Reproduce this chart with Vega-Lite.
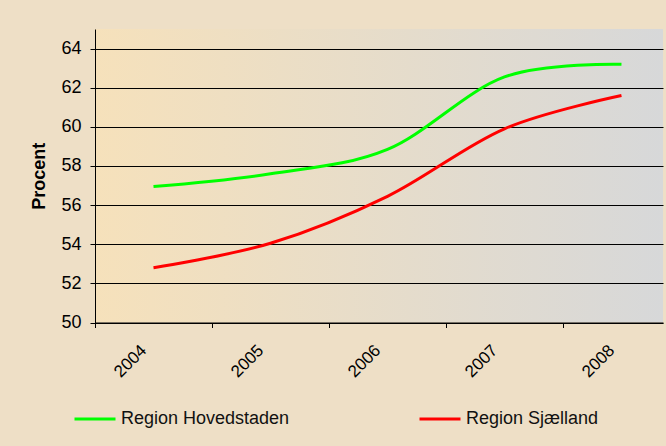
{
  "$schema": "https://vega.github.io/schema/vega-lite/v6.json",
  "width": 568,
  "height": 293.5,
  "autosize": {"type": "none"},
  "padding": {"left": 95, "top": 29, "right": 3, "bottom": 123.5},
  "background": "#EEDFC6",
  "config": {
    "font": "Liberation Sans",
    "view": {
      "stroke": null,
      "fill": {
        "gradient": "linear",
        "x1": 0, "y1": 0, "x2": 1, "y2": 0,
        "stops": [
          {"offset": 0, "color": "#F6E1BB"},
          {"offset": 1, "color": "#D7D8D9"}
        ]
      }
    }
  },
  "data": {
    "values": [
      {"year": 2004, "region": "Region Hovedstaden", "value": 56.95},
      {"year": 2005, "region": "Region Hovedstaden", "value": 57.6},
      {"year": 2006, "region": "Region Hovedstaden", "value": 58.85},
      {"year": 2007, "region": "Region Hovedstaden", "value": 62.55},
      {"year": 2008, "region": "Region Hovedstaden", "value": 63.2},
      {"year": 2004, "region": "Region Sjælland", "value": 52.8},
      {"year": 2005, "region": "Region Sjælland", "value": 54.05},
      {"year": 2006, "region": "Region Sjælland", "value": 56.45},
      {"year": 2007, "region": "Region Sjælland", "value": 59.9},
      {"year": 2008, "region": "Region Sjælland", "value": 61.6}
    ]
  },
  "mark": {"type": "line", "interpolate": "cardinal", "strokeWidth": 3, "clip": false},
  "encoding": {
    "x": {
      "field": "year",
      "type": "quantitative",
      "scale": {"domain": [2003.5, 2008.355], "nice": false, "zero": false},
      "axis": {
        "title": null,
        "values": [2004, 2005, 2006, 2007, 2008],
        "format": "d",
        "grid": false,
        "domainColor": "#000000",
        "domainWidth": 1,
        "tickColor": "#000000",
        "tickSize": 5,
        "tickOffset": -58.5,
        "labelOffset": 48.5,
        "labelAngle": -45,
        "labelAlign": "right",
        "labelBaseline": "middle",
        "labelPadding": 20,
        "labelFont": "Liberation Sans",
        "labelFontSize": 17,
        "labelColor": "#000000",
        "labelOverlap": false,
        "labelFlush": false,
        "labelBound": false
      }
    },
    "y": {
      "field": "value",
      "type": "quantitative",
      "scale": {"domain": [50, 65], "nice": false, "zero": false},
      "axis": {
        "title": "Procent",
        "values": [50, 52, 54, 56, 58, 60, 62, 64],
        "grid": true,
        "gridColor": "#000000",
        "gridWidth": 1,
        "gridOpacity": 1,
        "domainColor": "#000000",
        "tickColor": "#000000",
        "tickSize": 5,
        "labelPadding": 9,
        "labelFont": "Liberation Sans",
        "labelFontSize": 18,
        "labelColor": "#000000",
        "labelOverlap": false,
        "labelFlush": false,
        "titleFont": "Liberation Sans",
        "titleFontSize": 18,
        "titleFontWeight": "bold",
        "titleColor": "#000000",
        "titlePadding": 12
      }
    },
    "color": {
      "field": "region",
      "type": "nominal",
      "scale": {"domain": ["Region Hovedstaden", "Region Sjælland"], "range": ["#00FF00", "#FF0000"]},
      "legend": {
        "title": null,
        "orient": "none",
        "direction": "horizontal",
        "legendX": -22,
        "legendY": 368,
        "symbolType": "stroke",
        "symbolSize": 1681,
        "symbolStrokeWidth": 3,
        "labelFont": "Liberation Sans",
        "labelFontSize": 18,
        "labelColor": "#111111",
        "labelOffset": 4,
        "labelLimit": 400,
        "columnPadding": 123
      }
    }
  }
}
